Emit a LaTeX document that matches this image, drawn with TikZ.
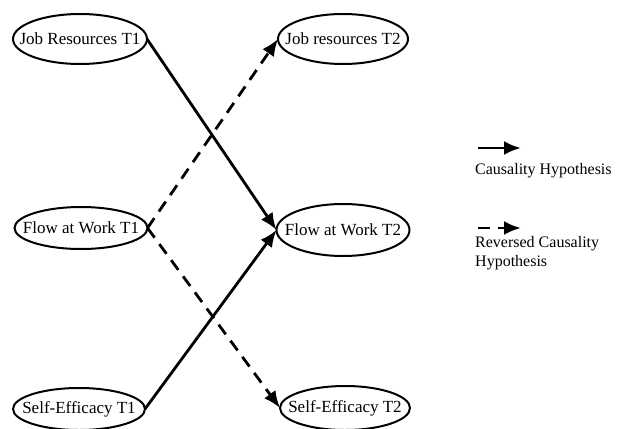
\documentclass[tikz,border=0pt]{standalone}
\usepackage{fontspec}
\setmainfont{Liberation Serif}
\usetikzlibrary{shapes.geometric,arrows.meta}
\newcommand\zerowidth[1]{\makebox[0pt][c]{#1}}
\begin{document}
\begin{tikzpicture}[x=1pt,y=-1pt,
  var/.style={draw,ellipse,line width=2pt,inner sep=0pt,outer sep=0pt,font=\fontsize{17}{19}\selectfont},
  causal/.style={line width=2.8pt,-{Latex[length=17pt,width=14pt]}},
  reversed/.style={causal,dash pattern=on 12pt off 8pt},
  legtext/.style={font=\fontsize{16}{19}\selectfont,align=left,inner sep=0pt}]
\useasboundingbox (0,0) rectangle (620,428);
\node[var,minimum width=134pt,minimum height=50pt] (jr1) at (80,39) {\zerowidth{Job Resources T1}};
\node[var,minimum width=133pt,minimum height=42pt] (fw1) at (81,228) {\zerowidth{Flow at Work T1}};
\node[var,minimum width=132pt,minimum height=42pt] (se1) at (79,409) {\zerowidth{Self-Efficacy T1}};
\node[var,minimum width=130pt,minimum height=50pt] (jr2) at (343,39) {\zerowidth{Job resources T2}};
\node[var,minimum width=133pt,minimum height=52pt] (fw2) at (343,230) {\zerowidth{Flow at Work T2}};
\node[var,minimum width=130pt,minimum height=44pt] (se2) at (345,408) {\zerowidth{Self-Efficacy T2}};
\draw[causal] (jr1.east) -- (fw2.west);
\draw[causal] (se1.east) -- (fw2.west);
\draw[reversed] (fw1.east) -- (jr2.west);
\draw[reversed] (fw1.east) -- (se2.west);
\coordinate (l1a) at (478,148);
\coordinate (l1b) at (521,148);
\coordinate (l2a) at (478,228);
\coordinate (l2b) at (521,228);
\draw[causal] (l1a) -- (l1b);
\draw[reversed] (l2a) -- (l2b);
\node[legtext,anchor=west] (lt1) at (475,171) {Causality Hypothesis};
\node[legtext,anchor=north west] (lt2) at (475,236) {Reversed Causality\\Hypothesis};
\end{tikzpicture}
\end{document}
